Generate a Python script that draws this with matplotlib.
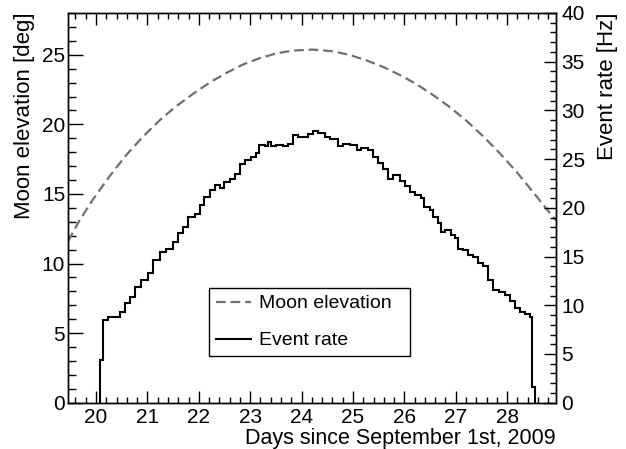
import matplotlib
matplotlib.use("Agg")
import matplotlib.pyplot as plt
from matplotlib.ticker import MultipleLocator

plt.rcParams['font.family'] = ['Liberation Sans', 'DejaVu Sans']
plt.rcParams['lines.scale_dashes'] = False

# Moon elevation [deg] vs days since Sept 1st 2009
moon_day = [19.455, 19.68, 19.94, 20.27, 20.59, 20.91, 21.24, 21.56, 21.89, 22.21,
            22.54, 22.86, 23.18, 23.51, 23.83, 24.22, 24.61, 24.94, 25.26, 25.59,
            25.91, 26.23, 26.56, 26.88, 27.21, 27.53, 27.85, 28.18, 28.50, 28.76, 28.95]
moon_elev = [11.6, 13.1, 14.6, 16.3, 17.8, 19.1, 20.3, 21.3, 22.2, 23.0,
             23.7, 24.3, 24.75, 25.1, 25.3, 25.37, 25.25, 24.98, 24.6, 24.12,
             23.55, 22.9, 22.1, 21.25, 20.25, 19.15, 17.95, 16.6, 15.15, 13.95, 13.1]

# Event rate histogram [Hz]: bin edges and contents
rate_edges = [20.085, 20.136, 20.23, 20.46, 20.56, 20.66, 20.75, 20.88, 21.01, 21.11,
              21.24, 21.37, 21.50, 21.60, 21.69, 21.79, 21.92, 22.02, 22.11, 22.21,
              22.31, 22.41, 22.50, 22.60, 22.70, 22.80, 22.89, 23.02, 23.12, 23.18,
              23.28, 23.35, 23.41, 23.51, 23.64, 23.74, 23.83, 23.93, 24.03, 24.12,
              24.22, 24.32, 24.45, 24.55, 24.71, 24.81, 24.94, 25.07, 25.16, 25.29,
              25.39, 25.49, 25.58, 25.68, 25.78, 25.91, 26.01, 26.10, 26.20, 26.33,
              26.39, 26.49, 26.56, 26.65, 26.72, 26.80, 26.90, 26.99, 27.05, 27.14,
              27.24, 27.33, 27.43, 27.53, 27.63, 27.72, 27.85, 27.95, 28.05, 28.15,
              28.24, 28.34, 28.44, 28.49, 28.54]
rate_values = [4.4, 8.5, 8.8, 9.3, 10.2, 10.9, 11.9, 12.6, 13.3, 14.6,
               15.5, 15.8, 16.5, 17.4, 18.0, 19.1, 19.4, 20.3, 21.1, 21.8,
               22.3, 22.0, 22.7, 23.0, 23.5, 24.5, 24.9, 25.2, 25.6, 26.4,
               26.3, 26.8, 26.3, 26.5, 26.3, 26.6, 27.5, 27.3, 27.3, 27.6,
               27.9, 27.7, 27.3, 27.1, 26.3, 26.6, 26.5, 25.9, 26.1, 25.9,
               25.2, 24.6, 24.0, 23.0, 23.4, 22.8, 22.2, 21.6, 21.3, 21.0,
               20.1, 19.8, 19.1, 18.4, 17.5, 17.7, 17.2, 16.9, 15.8, 15.7,
               15.2, 15.0, 14.3, 14.0, 12.6, 11.6, 11.4, 11.1, 10.4, 9.7,
               9.3, 9.1, 8.8, 1.6]

fs_tick = 15
fs_title = 15.5
fs_leg = 14
W, H = 626, 449
fig = plt.figure(figsize=(W / 100, H / 100), dpi=100)
ax = fig.add_axes([68 / W, 1 - 402.7 / H, (556 - 68) / W, (402.7 - 13) / H])
ax2 = ax.twinx()

moon_line, = ax.plot(moon_day, moon_elev, color="#707070", lw=1.6,
                     dashes=(7, 3.5), label="Moon elevation")
ax2.stairs(rate_values, rate_edges, baseline=0, color="black", lw=1.5)

ax.set_xlim(19.455, 28.95)
ax.set_ylim(0, 28)
ax2.set_ylim(0, 40)

ax.xaxis.set_major_locator(MultipleLocator(1))
ax.xaxis.set_minor_locator(MultipleLocator(0.2))
ax.yaxis.set_major_locator(MultipleLocator(5))
ax.yaxis.set_minor_locator(MultipleLocator(1))
ax2.yaxis.set_major_locator(MultipleLocator(5))
ax2.yaxis.set_minor_locator(MultipleLocator(1))

ax.tick_params(axis="x", which="both", direction="in", top=True, labelsize=fs_tick, pad=3.5)
ax.tick_params(axis="x", which="major", length=8.5, width=1)
ax.tick_params(axis="x", which="minor", length=4.2, width=1)
ax.tick_params(axis="y", which="both", direction="in", right=False, labelsize=fs_tick, pad=2)
ax.tick_params(axis="y", which="major", length=10.5, width=1)
ax.tick_params(axis="y", which="minor", length=5.5, width=1)
ax2.tick_params(axis="y", which="both", direction="in", labelsize=fs_tick, pad=4)
ax2.tick_params(axis="y", which="major", length=8.5, width=1)
ax2.tick_params(axis="y", which="minor", length=4, width=1)

for a in (ax, ax2):
    for s in a.spines.values():
        s.set_linewidth(1.0)

# Axis titles, ROOT-style (aligned to the axis ends)
fig.text(556 / W, 1 - 444 / H, "Days since September 1st, 2009", fontsize=fs_title,
         ha="right", va="baseline")
fig.text(14 / W, 1 - 12 / H, "Moon elevation [deg]", fontsize=16, rotation=90,
         ha="left", va="top")
fig.text(597 / W, 1 - 12 / H, "Event rate [Hz]", fontsize=16, rotation=90,
         ha="left", va="top")

# Legend
rate_handle = plt.Line2D([], [], color="black", lw=1.5)
leg = ax2.legend([moon_line, rate_handle], ["Moon elevation", "Event rate"],
                 loc="upper left", bbox_to_anchor=(209 / W, 1 - 359 / H, 201 / W, 71 / H),
                 bbox_transform=fig.transFigure, mode="expand", fontsize=fs_leg,
                 fancybox=False, framealpha=1, edgecolor="black", borderaxespad=0,
                 handlelength=1.8, handletextpad=0.4, labelspacing=1.0, borderpad=0.35)
leg.get_frame().set_linewidth(1.0)

fig.savefig("out.png", dpi=100)
